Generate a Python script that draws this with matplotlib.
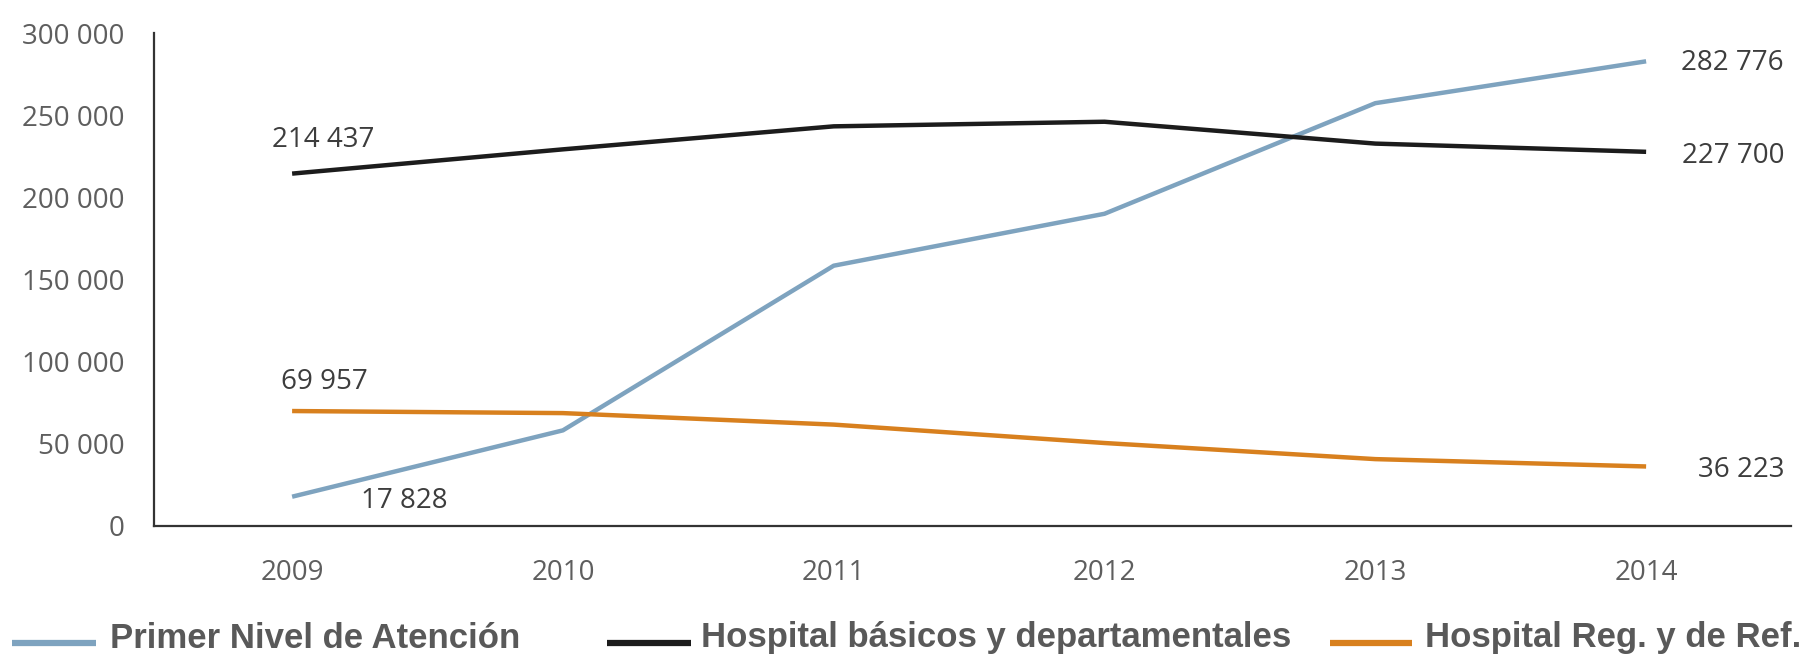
import matplotlib
matplotlib.use("Agg")
import matplotlib.pyplot as plt
from matplotlib.lines import Line2D
from matplotlib.ticker import FuncFormatter

years = [2009, 2010, 2011, 2012, 2013, 2014]
primer_nivel = [17828, 58200, 158400, 190000, 257300, 282776]
hosp_basicos = [214437, 229200, 243200, 246000, 232700, 227700]
hosp_reg = [69957, 68700, 61700, 50500, 40700, 36223]
series_names = ["Primer Nivel de Atención", "Hospital básicos y departamentales", "Hospital Reg. y de Ref."]
yticks = [0, 50000, 100000, 150000, 200000, 250000, 300000]

C_BLUE = "#7ea3bf"
C_BLACK = "#1c1c1c"
C_ORANGE = "#d8801e"
TICK_C = "#5e5e5e"
ANN_C = "#3d3d3d"
TFONT = ["Open Sans", "DejaVu Sans"]

fig = plt.figure(figsize=(18.14, 6.56), dpi=100)
ax = fig.add_axes([154/1814, 130/656, (1791-154)/1814, (526-33)/656])

lw = 3.2
ax.plot(years, primer_nivel, color=C_BLUE, lw=lw, solid_capstyle="butt")
ax.plot(years, hosp_basicos, color=C_BLACK, lw=lw, solid_capstyle="butt")
ax.plot(years, hosp_reg, color=C_ORANGE, lw=lw, solid_capstyle="butt")

ax.set_xlim(2008.49, 2014.535)
ax.set_ylim(0, 300000)
ax.set_xticks(years)
ax.set_yticks(yticks)
ax.yaxis.set_major_formatter(FuncFormatter(lambda v, p: f"{int(v):,}".replace(",", " ")))
ax.tick_params(axis="both", length=0, labelsize=20, labelcolor=TICK_C)
ax.tick_params(axis="x", pad=24)
ax.tick_params(axis="y", pad=21)
for lab in ax.get_xticklabels() + ax.get_yticklabels():
    lab.set_family(TFONT)

for s in ["top", "right"]:
    ax.spines[s].set_visible(False)
for s in ["left", "bottom"]:
    ax.spines[s].set_color("#333333")
    ax.spines[s].set_linewidth(1.6)

def fmt(v):
    return f"{v:,}".replace(",", " ")

px = 0.72
ann = dict(fontsize=20, color=ANN_C, family=TFONT, textcoords="offset points")
ax.annotate(fmt(hosp_basicos[0]), (years[0], hosp_basicos[0]), xytext=(-20*px, 34*px), ha="left", va="center", **ann)
ax.annotate(fmt(hosp_reg[0]), (years[0], hosp_reg[0]), xytext=(-11*px, 29*px), ha="left", va="center", **ann)
ax.annotate(fmt(primer_nivel[0]), (years[0], primer_nivel[0]), xytext=(69*px, -4*px), ha="left", va="center", **ann)
ax.annotate(fmt(primer_nivel[-1]), (years[-1], primer_nivel[-1]), xytext=(138*px, -2*px), ha="right", va="center", **ann)
ax.annotate(fmt(hosp_basicos[-1]), (years[-1], hosp_basicos[-1]), xytext=(138*px, -4*px), ha="right", va="center", **ann)
ax.annotate(fmt(hosp_reg[-1]), (years[-1], hosp_reg[-1]), xytext=(138*px, -4*px), ha="right", va="center", **ann)

# legend (manual, figure pixel coordinates)
W, H = 1814, 656
leg_y = 656 - 643
text_y = 656 - 638
entries = [(12, 96, 110, C_BLUE), (607, 691, 701, C_BLACK), (1330, 1412, 1425, C_ORANGE)]
for (x0, x1, xt, c), name in zip(entries, series_names):
    fig.add_artist(Line2D([x0/W, x1/W], [leg_y/H, leg_y/H], color=c, lw=4.5, transform=fig.transFigure, solid_capstyle="butt"))
    fig.text(xt/W, text_y/H, name, fontsize=25, fontweight="bold", color="#595959",
             family=["Liberation Sans", "DejaVu Sans"], ha="left", va="center")

fig.savefig("out.png", dpi=100, facecolor="white")
